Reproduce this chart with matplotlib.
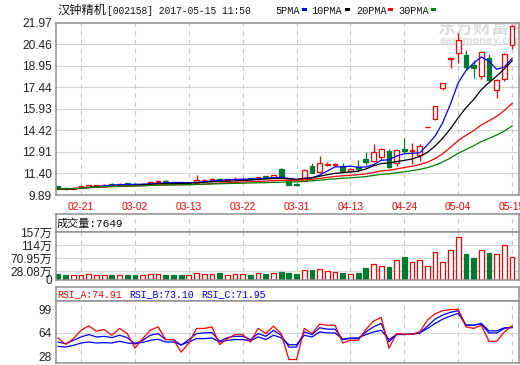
import matplotlib
matplotlib.use('Agg')
import matplotlib.pyplot as plt
from matplotlib.patches import Rectangle
import numpy as np
import pandas as pd

# ---------------- data ----------------
dates = ['02-16', '02-17', '02-20', '02-21', '02-22', '02-23', '02-24', '02-27', '02-28', '03-01',
         '03-02', '03-03', '03-06', '03-07', '03-08', '03-09', '03-10', '03-13', '03-14', '03-15',
         '03-16', '03-17', '03-20', '03-21', '03-22', '03-23', '03-24', '03-27', '03-28', '03-29',
         '03-30', '03-31', '04-05', '04-06', '04-07', '04-10', '04-11', '04-12', '04-13', '04-14',
         '04-17', '04-18', '04-19', '04-20', '04-21', '04-24', '04-25', '04-26', '04-27', '04-28',
         '05-02', '05-03', '05-04', '05-05', '05-08', '05-09', '05-10', '05-11', '05-12', '05-15']

opens = [10.50, 10.35, 10.30, 10.38, 10.48, 10.55, 10.58, 10.68, 10.60, 10.72,
         10.66, 10.62, 10.66, 10.80, 10.88, 10.78, 10.75, 10.70, 10.74, 10.92,
         10.95, 11.02, 10.94, 10.98, 11.00, 11.06, 11.00, 11.20, 11.10, 11.72,
         10.95, 10.64, 10.90, 11.92, 11.50, 12.02, 11.96, 11.92, 11.60, 11.86,
         12.40, 12.30, 12.55, 13.00, 12.12, 13.15, 12.95, 12.70, 14.66, 15.22,
         17.40, 19.45, 19.85, 19.70, 19.00, 18.20, 19.52, 17.25, 18.02, 20.41]
highs = [10.55, 10.40, 10.42, 10.55, 10.62, 10.62, 10.68, 10.72, 10.72, 10.75,
         10.70, 10.70, 10.85, 10.95, 10.92, 10.82, 10.78, 10.78, 11.28, 11.02,
         11.08, 11.05, 11.00, 11.15, 11.12, 11.10, 11.15, 11.25, 11.30, 11.80,
         11.08, 10.70, 11.70, 12.15, 12.62, 12.20, 12.15, 12.10, 11.78, 12.34,
         12.92, 13.50, 13.18, 13.10, 13.12, 13.86, 13.55, 13.45, 14.66, 16.13,
         17.74, 19.51, 21.23, 20.05, 19.35, 20.00, 19.75, 18.00, 19.82, 21.80]
lows = [10.28, 10.25, 10.28, 10.35, 10.45, 10.50, 10.55, 10.58, 10.58, 10.62,
        10.58, 10.60, 10.64, 10.76, 10.74, 10.70, 10.68, 10.66, 10.72, 10.86,
        10.90, 10.90, 10.90, 10.95, 10.96, 10.98, 10.96, 11.05, 11.05, 11.10,
        10.58, 10.55, 10.85, 11.40, 11.40, 11.95, 11.90, 11.50, 11.55, 11.58,
        11.98, 12.20, 12.35, 11.80, 11.95, 12.85, 12.05, 12.25, 14.66, 15.15,
        17.25, 18.80, 19.12, 18.65, 18.07, 18.05, 17.90, 16.67, 17.85, 20.10]
closes = [10.32, 10.30, 10.38, 10.50, 10.58, 10.58, 10.62, 10.62, 10.68, 10.65,
          10.62, 10.66, 10.80, 10.84, 10.76, 10.74, 10.70, 10.74, 10.95, 10.96,
          11.00, 10.94, 10.98, 11.02, 11.04, 11.02, 11.12, 11.08, 11.28, 11.15,
          10.62, 10.62, 11.62, 11.45, 12.10, 12.08, 12.08, 11.60, 11.72, 11.70,
          12.18, 12.88, 13.15, 11.88, 13.04, 12.95, 13.04, 13.33, 14.66, 16.13,
          17.74, 19.51, 20.75, 18.88, 18.78, 19.94, 17.95, 17.95, 19.75, 21.75]

volumes = [18.8, 15.4, 15.0, 15.0, 19.0, 15.0, 15.0, 15.0, 15.0, 15.0,
           15.0, 15.0, 19.0, 19.0, 15.0, 15.0, 15.0, 15.0, 22.0, 19.0,
           19.0, 22.0, 15.0, 19.0, 19.0, 15.0, 24.0, 19.7, 22.0, 26.0,
           23.0, 19.7, 32.0, 33.0, 35.0, 30.0, 26.0, 23.0, 19.0, 23.0,
           39.5, 51.5, 45.0, 42.8, 64.7, 75.7, 58.0, 64.7, 45.0, 91.0,
           58.0, 97.6, 140.0, 85.5, 72.0, 97.6, 88.8, 85.5, 114.0, 76.49]

rsi_a = [56.3, 46.5, 55.3, 68.0, 74.8, 66.6, 69.2, 60.4, 70.8, 63.0,
         40.8, 55.3, 68.0, 73.3, 53.8, 53.8, 34.7, 48.6, 70.8, 70.8,
         73.3, 46.0, 55.3, 61.5, 61.5, 50.1, 71.0, 63.0, 74.3, 63.0,
         23.4, 23.4, 70.8, 63.0, 77.4, 75.8, 75.8, 48.6, 52.7, 52.7,
         69.2, 82.0, 87.7, 40.8, 63.0, 62.0, 62.0, 65.5, 83.5, 93.4,
         97.9, 99.5, 100.0, 73.3, 70.8, 75.8, 51.2, 51.2, 65.5, 74.91]
rsi_b = [50.1, 47.6, 52.7, 57.8, 61.5, 57.8, 58.8, 56.8, 60.4, 56.8,
         47.6, 52.7, 60.4, 63.0, 53.8, 53.8, 45.0, 53.8, 63.0, 64.0,
         64.5, 51.2, 56.8, 58.8, 58.8, 53.8, 63.0, 58.8, 68.0, 60.4,
         42.4, 42.4, 65.5, 61.5, 71.8, 69.7, 69.7, 53.8, 55.3, 55.3,
         65.5, 73.3, 78.5, 50.1, 62.0, 62.0, 62.0, 64.0, 74.3, 85.1,
         91.3, 95.4, 97.9, 75.8, 75.8, 77.4, 64.0, 64.0, 70.8, 73.10]
rsi_c = [43.4, 42.4, 45.0, 48.6, 50.1, 48.6, 49.1, 48.6, 51.2, 48.6,
         47.6, 49.6, 52.7, 54.3, 50.1, 50.1, 46.0, 50.1, 55.3, 55.3,
         56.3, 50.1, 52.7, 53.8, 53.8, 51.7, 58.0, 53.8, 60.4, 56.8,
         46.0, 46.0, 60.4, 57.8, 65.5, 64.0, 64.0, 54.3, 56.3, 56.3,
         61.5, 65.5, 68.0, 53.8, 61.5, 61.5, 62.0, 64.0, 70.8, 78.5,
         85.1, 89.8, 93.9, 75.8, 75.8, 78.5, 67.1, 67.1, 71.8, 71.95]

price_ticks = [9.89, 11.40, 12.91, 14.42, 15.93, 17.44, 18.95, 20.46, 21.97]
vol_ticks = [0, 28.08, 70.95, 114, 157]
vol_tick_labels = ['0', '28.08万', '70.95万', '114万', '157万']
rsi_ticks = [28, 64, 99]
xtick_dates = ['02-21', '03-02', '03-13', '03-22', '03-31', '04-13', '04-24', '05-04', '05-15']

ma_periods = [5, 10, 20, 30]
ma_colors = ['#0000ff', '#000000', '#ff0000', '#008000']
ma_names = ['5PMA', '10PMA', '20PMA', '30PMA']

title_name = '汉钟精机'
title_rest = '[002158] 2017-05-15 11:50'
vol_header = '成交量:7649'
rsi_names = ['RSI_A', 'RSI_B', 'RSI_C']
rsi_colors = ['#ff0000', '#0000ff', '#0000ff']

# ---------------- style ----------------
RED = '#ff0000'
GREEN = '#007a33'
BORDER = '#8f8f8f'
GRID = '#d4d4d4'
W, H = 520, 365

fig = plt.figure(figsize=(5.2, 3.65), dpi=100)
fig.patch.set_facecolor('white')


def box(l, t, r, b):
    return [l / W, 1 - b / H, (r - l) / W, (b - t) / H]


LEFT, RIGHT = 56, 519
n = len(closes)
x = np.arange(n)
xlim = (-0.26, 59.9)
xpos = [dates.index(d) for d in xtick_dates]

main = fig.add_axes(box(LEFT, 22.7, RIGHT, 195))
vhead = fig.add_axes(box(LEFT, 214, RIGHT, 232.3))
vol = fig.add_axes(box(LEFT, 232.3, RIGHT, 280))
rhead = fig.add_axes(box(LEFT, 287.3, RIGHT, 301))
rsi = fig.add_axes(box(LEFT, 301, RIGHT, 363.3))

for a in (main, vhead, vol, rhead, rsi):
    a.set_xlim(*xlim)
    for s in a.spines.values():
        s.set_color(BORDER)
        s.set_linewidth(1.1)
    a.tick_params(length=0)
for a in (vhead, rhead):
    a.set_xticks([])
    a.set_yticks([])
    a.set_ylim(0, 1)

yfont = dict(family=['Liberation Sans', 'Noto Sans CJK SC'], size=8.6, color='#222222')

# ---------------- main price panel ----------------
main.set_ylim(price_ticks[0], price_ticks[-1])
for p in price_ticks[1:-1]:
    main.axhline(p, color=GRID, lw=0.8, zorder=0)
for xp in xpos:
    main.axvline(xp, color='#c8c8c8', lw=0.8, ls=(0, (4, 4)), zorder=0)
main.set_yticks(price_ticks)
main.set_yticklabels(['%.2f' % p for p in price_ticks], fontdict=yfont)
main.tick_params(axis='y', pad=3)
main.set_xticks(xpos)
main.set_xticklabels(xtick_dates, family='Liberation Sans', size=7.4, color=RED)
main.tick_params(axis='x', pad=5)

# watermark
main.text(438 / W, 1 - 27 / H, '东方财富网', transform=fig.transFigure, family='Noto Sans CJK SC',
          fontsize=13, fontweight='bold', color='#dcdcdc', va='center', ha='left', zorder=0, clip_on=True)
main.text(440 / W, 1 - 41 / H, 'eastmoney.com', transform=fig.transFigure, family='DejaVu Sans',
          fontsize=7, fontweight='bold', color='#e0e0e0', va='center', ha='left', zorder=0, clip_on=True)

bw = 0.62
for i in range(n):
    o, h, l, c = opens[i], highs[i], lows[i], closes[i]
    up = c >= o
    col = RED if up else GREEN
    lo_b, hi_b = min(o, c), max(o, c)
    if hi_b - lo_b < 0.02:
        main.hlines(c, i - bw / 2, i + bw / 2, color=col, lw=1.0, zorder=2)
        main.vlines(i, l, h, color=col, lw=0.9, zorder=2)
        continue
    main.vlines(i, hi_b, h, color=col, lw=0.9, zorder=2)
    main.vlines(i, l, lo_b, color=col, lw=0.9, zorder=2)
    main.add_patch(Rectangle((i - bw / 2, lo_b), bw, hi_b - lo_b,
                             facecolor='white' if up else col, edgecolor=col, lw=0.9, zorder=2))

cs = pd.Series(closes)
for per, colr in zip(ma_periods, ma_colors):
    main.plot(x, cs.rolling(per, min_periods=1).mean(), color=colr, lw=0.9, zorder=3)

# header texts
fig.text(57 / W, 1 - 10 / H, title_name, family='Noto Sans CJK SC', size=8.8, va='center', ha='left', color='#111111')
fig.text(107 / W, 1 - 10.5 / H, title_rest, family='Liberation Mono', size=6.9, va='center', ha='left', color='#111111')
leg_x = [275, 311, 356, 398]
sq_x = [302, 345, 388, 431]
for name, colr, lx, sx in zip(ma_names, ma_colors, leg_x, sq_x):
    fig.text(lx / W, 1 - 10.5 / H, name, family='Liberation Mono', size=7.4, va='center', ha='left', color='#111111')
    fig.patches.append(Rectangle((sx / W, 1 - 11 / H), 5 / W, 2.5 / H, transform=fig.transFigure,
                                 facecolor=colr, edgecolor='none'))

# ---------------- volume panel ----------------
vol.set_ylim(0, vol_ticks[-1])
for v in vol_ticks[1:-1]:
    vol.axhline(v, color=GRID, lw=0.8, zorder=0)
for a in (vol, vhead):
    for xp in xpos:
        a.axvline(xp, color='#c8c8c8', lw=0.8, ls=(0, (4, 4)), zorder=0)
vol.set_xticks([])
vol.set_yticks(vol_ticks)
vol.set_yticklabels(vol_tick_labels, fontdict=yfont)
vol.tick_params(axis='y', pad=3)
for i in range(n):
    up = closes[i] >= opens[i]
    col = RED if up else GREEN
    vol.add_patch(Rectangle((i - bw / 2, 0), bw, volumes[i],
                            facecolor='white' if up else col, edgecolor=col, lw=0.9, zorder=2))
vhead.text(0.002, 0.5, vol_header, transform=vhead.transAxes,
           family=['Liberation Mono', 'Noto Sans CJK SC'], size=8, va='center', ha='left', color='#111111')

# ---------------- RSI panel ----------------
rsi.set_ylim(17.6, 112.7)
rsi.axhline(64, color=GRID, lw=0.8, zorder=0)
for xp in xpos:
    rsi.axvline(xp, color='#c8c8c8', lw=0.8, ls=(0, (4, 4)), zorder=0)
rsi.set_xticks([])
rsi.set_yticks(rsi_ticks)
rsi.set_yticklabels([str(t) for t in rsi_ticks], fontdict=yfont)
rsi.tick_params(axis='y', pad=3)
for series, colr in zip([rsi_c, rsi_b, rsi_a], [rsi_colors[2], rsi_colors[1], rsi_colors[0]]):
    rsi.plot(x, series, color=colr, lw=0.9, zorder=2)

hx = [57, 129, 201]
for name, series, colr, hxx in zip(rsi_names, [rsi_a, rsi_b, rsi_c], rsi_colors, hx):
    fig.text(hxx / W, 1 - 294.5 / H, '%s:%.2f' % (name, series[-1]), family='Liberation Mono',
             size=7, va='center', ha='left', color=colr)

fig.savefig('out.png', dpi=100, facecolor='white')
